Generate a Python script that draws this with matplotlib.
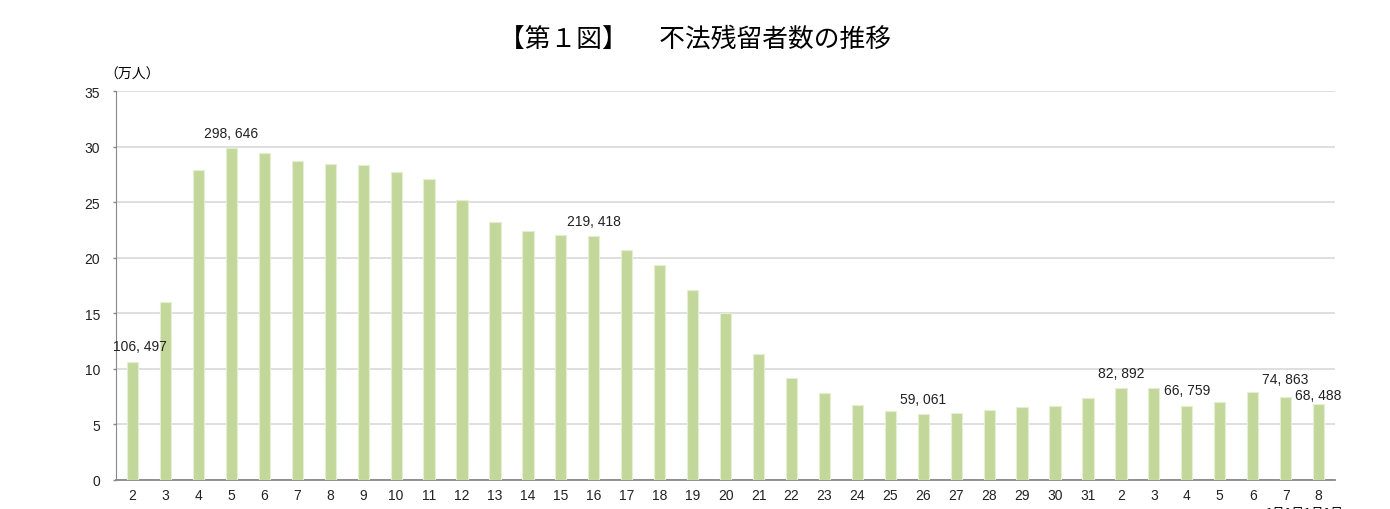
#!/usr/bin/env python3
# -*- coding: utf-8 -*-
import matplotlib
matplotlib.use("Agg")
import matplotlib.pyplot as plt
from matplotlib import font_manager
import numpy as np

# era years: Heisei 2..31, then Reiwa 2..8
years = [str(y) for y in range(2, 32)] + [str(y) for y in range(2, 9)]
# illegal overstayers (万人)
values = [
    10.6497, 15.98, 27.89, 29.8646, 29.38, 28.67, 28.47, 28.30, 27.68, 27.10,
    25.17, 23.21, 22.41, 22.06, 21.9418, 20.73, 19.37, 17.08, 14.98, 11.31,
    9.18, 7.85, 6.71, 6.20, 5.9061, 6.00, 6.28, 6.53, 6.65, 7.42,
    8.2892, 8.29, 6.6759, 7.05, 7.91, 7.4863, 6.8488,
]
# bars that carry a value label (index -> text)
labels = {
    0: "106, 497",
    3: "298, 646",
    14: "219, 418",
    24: "59, 061",
    30: "82, 892",
    32: "66, 759",
    35: "74, 863",
    36: "68, 488",
}
# label nudges in points (dx, dy); default (0, 6)
nudge = {0: (5, 6), 35: (0, 7.5), 36: (0, 1.5)}

JPFONT = ["Noto Sans CJK JP", "DejaVu Sans"]
NUMPROP = font_manager.FontProperties(family=["Liberation Sans", "DejaVu Sans"], size=10)

fig = plt.figure(figsize=(13.9, 5.1), dpi=100)
ax = fig.add_axes([0.0835, 0.0569, 0.8770, 0.7627])

x = np.arange(len(years))
ax.bar(x, values, width=0.34, color="#c4d79b", edgecolor="#e4eed0", linewidth=0.8, zorder=3)

for i, txt in labels.items():
    ax.annotate(txt, (x[i], values[i]), xytext=nudge.get(i, (0, 6)), textcoords="offset points",
                ha="center", va="bottom", fontproperties=NUMPROP, color="#222222")

ax.set_xlim(-0.5, len(years) - 0.5)
ax.set_ylim(0, 35)
ax.set_yticks(np.arange(0, 36, 5))
ax.set_xticks(x)
ax.set_xticklabels(years)
ax.yaxis.grid(True, color="#d9d9d9", linewidth=1.2, zorder=0)
ax.set_axisbelow(True)

for lab in ax.get_xticklabels() + ax.get_yticklabels():
    lab.set_fontproperties(NUMPROP)
    lab.set_color("#222222")

ax.tick_params(axis="x", length=0, pad=6)
ax.tick_params(axis="y", length=2.5, width=1, color="#888888", pad=9)
ax.spines["top"].set_visible(False)
ax.spines["right"].set_visible(False)
ax.spines["left"].set_color("#888888")
ax.spines["bottom"].set_color("#888888")
ax.spines["bottom"].set_linewidth(1.3)

fig.text(0.5, 0.9216, "【第１図】　 不法残留者数の推移", ha="center", va="center",
         fontsize=18.5, family=JPFONT)
fig.text(0.0753, 0.853, "（万人）", ha="left", va="center", fontsize=10, family=JPFONT)
# clipped footnote at the very bottom edge
fig.text(0.9105, 0.006, "1月1日1月1日", ha="left", va="top", fontsize=9, family=JPFONT)

fig.savefig("out.png", dpi=100)
